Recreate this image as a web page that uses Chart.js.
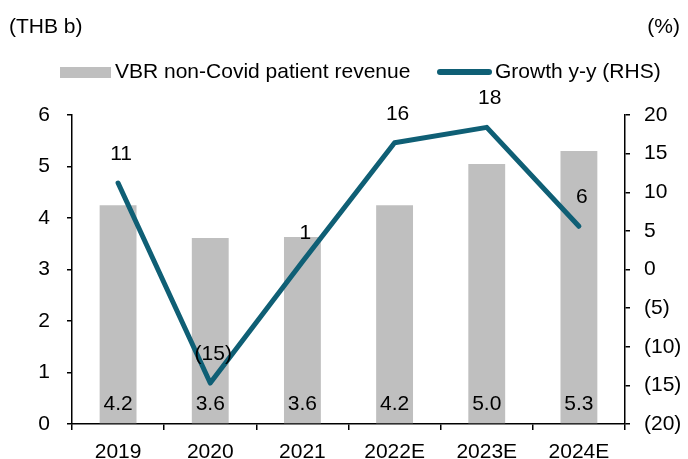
<!DOCTYPE html>
<html>
<head>
<meta charset="utf-8">
<script src="https://cdn.jsdelivr.net/npm/chart.js@4/dist/chart.umd.min.js"></script>
<style>
  body { margin: 0; background: #ffffff; }
  canvas { display: block; }
</style>
</head>
<body>
<canvas id="chart" width="688" height="459"></canvas>
<script>
// Chart data
const years = ['2019', '2020', '2021', '2022E', '2023E', '2024E'];
const revenue = [4.25, 3.61, 3.63, 4.25, 5.05, 5.30];
const revenueLabels = ['4.2', '3.6', '3.6', '4.2', '5.0', '5.3'];
const growth = [11.2, -14.7, 1.0, 16.4, 18.4, 5.6];
const growthLabels = ['11', '(15)', '1', '16', '18', '6'];

const BAR_COLOR = '#bfbfbf';
const LINE_COLOR = '#0f5f75';
const FONT = 'Liberation Sans, Arial, sans-serif';
const FONT_SIZE = 21;

Chart.defaults.font.family = FONT;
Chart.defaults.font.size = FONT_SIZE;
Chart.defaults.color = '#000000';

// Titles and legend drawn on the canvas
const headerPlugin = {
    id: 'header',
    afterDraw(chart) {
        const ctx = chart.ctx;
        ctx.save();
        ctx.font = FONT_SIZE + 'px ' + FONT;
        ctx.fillStyle = '#000000';
        ctx.textBaseline = 'middle';
        ctx.textAlign = 'left';
        ctx.fillText('(THB b)', 9, 27);
        ctx.textAlign = 'right';
        ctx.fillText('(%)', 680, 27);

        // legend
        ctx.textAlign = 'left';
        ctx.fillStyle = BAR_COLOR;
        ctx.fillRect(60, 67, 51, 11);
        ctx.fillStyle = '#000000';
        ctx.fillText('VBR non-Covid patient revenue', 115, 72);

        ctx.strokeStyle = LINE_COLOR;
        ctx.lineWidth = 6;
        ctx.lineCap = 'round';
        ctx.beginPath();
        ctx.moveTo(440, 72);
        ctx.lineTo(489, 72);
        ctx.stroke();
        ctx.fillText('Growth y-y (RHS)', 495, 72);
        ctx.restore();
    }
};

// Value labels for bars and line points
const valueLabelPlugin = {
    id: 'valueLabels',
    afterDatasetsDraw(chart) {
        const ctx = chart.ctx;
        ctx.save();
        ctx.font = FONT_SIZE + 'px ' + FONT;
        ctx.fillStyle = '#000000';
        ctx.textAlign = 'center';
        ctx.textBaseline = 'middle';

        const base = chart.scales.y.getPixelForValue(0);
        chart.getDatasetMeta(0).data.forEach((bar, i) => {
            ctx.fillText(revenueLabels[i], bar.x, base - 20);
        });
        chart.getDatasetMeta(1).data.forEach((pt, i) => {
            ctx.fillText(growthLabels[i], pt.x + 3, pt.y - 29);
        });
        ctx.restore();
    }
};

const axisGrid = {
    display: true,
    drawOnChartArea: false,
    color: '#000000',
    lineWidth: 1.5
};

new Chart(document.getElementById('chart').getContext('2d'), {
    data: {
        labels: years,
        datasets: [{
            type: 'bar',
            label: 'VBR non-Covid patient revenue',
            data: revenue,
            backgroundColor: BAR_COLOR,
            borderWidth: 0,
            barPercentage: 0.4,
            categoryPercentage: 1.0,
            yAxisID: 'y',
            order: 2
        }, {
            type: 'line',
            label: 'Growth y-y (RHS)',
            data: growth,
            borderColor: LINE_COLOR,
            borderWidth: 5,
            borderCapStyle: 'round',
            borderJoinStyle: 'round',
            pointRadius: 0,
            tension: 0,
            fill: false,
            yAxisID: 'y1',
            order: 1
        }]
    },
    options: {
        responsive: false,
        animation: false,
        layout: {
            padding: { top: 115, left: 0, right: 0, bottom: 0 }
        },
        plugins: {
            legend: { display: false },
            tooltip: { enabled: false }
        },
        scales: {
            x: {
                offset: true,
                grid: Object.assign({}, axisGrid, { offset: true, tickLength: 6 }),
                border: { color: '#000000', width: 1.5 },
                ticks: { padding: 10, maxRotation: 0 },
                afterFit(scale) { scale.height = 35; }
            },
            y: {
                position: 'left',
                min: 0,
                max: 6,
                ticks: { stepSize: 1, padding: 17 },
                grid: Object.assign({}, axisGrid, { tickLength: 5 }),
                border: { color: '#000000', width: 1.5 },
                afterFit(scale) { scale.width = 72; }
            },
            y1: {
                position: 'right',
                min: -20,
                max: 20,
                ticks: {
                    stepSize: 5,
                    padding: 14,
                    callback: v => v < 0 ? '(' + Math.abs(v) + ')' : String(v)
                },
                grid: Object.assign({}, axisGrid, { tickLength: 5 }),
                border: { color: '#000000', width: 1.5 },
                afterFit(scale) { scale.width = 63; }
            }
        }
    },
    plugins: [headerPlugin, valueLabelPlugin]
});
</script>
</body>
</html>
